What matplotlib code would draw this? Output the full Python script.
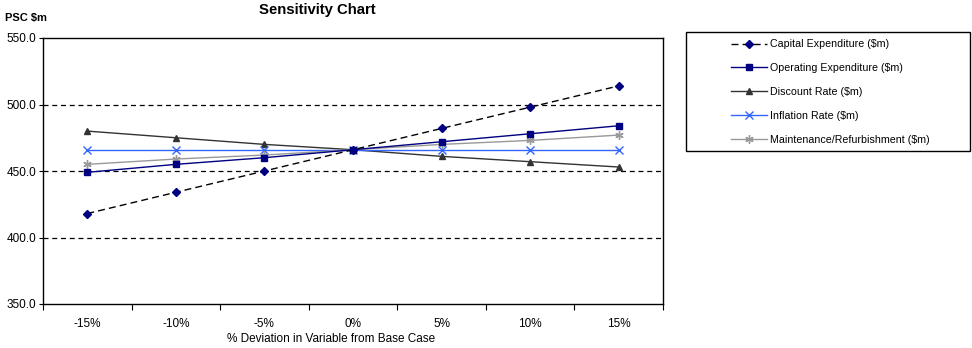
import matplotlib
matplotlib.use("Agg")
import matplotlib.pyplot as plt
from matplotlib.ticker import FixedLocator, NullFormatter
from matplotlib.patches import Rectangle

plt.rcParams['font.family'] = ['Liberation Sans', 'DejaVu Sans']

categories = ["-15%", "-10%", "-5%", "0%", "5%", "10%", "15%"]
capital = [418, 434, 450, 466, 482, 498, 514]
operating = [449, 455, 460, 466, 472, 478, 484]
discount = [480, 475, 470, 466, 461, 457, 453]
inflation = [466, 466, 466, 466, 466, 466, 466]
maintenance = [455, 459, 462, 466, 470, 473, 477]
yticks = [350, 400, 450, 500, 550]

fig = plt.figure(figsize=(9.72, 3.48), dpi=100)
ax = fig.add_axes([43/972, 1-304/348, (663-43)/972, (304-38)/348])

x = list(range(len(categories)))
l1, = ax.plot(x, capital, color='black', ls=(0, (5, 3)), lw=1.0, marker='D', ms=4,
              mfc='#000080', mec='#000080', label='Capital Expenditure ($m)', zorder=5)
l2, = ax.plot(x, operating, color='#000080', lw=1.0, marker='s', ms=5,
              mfc='#000080', mec='#000080', label='Operating Expenditure ($m)', zorder=4)
l3, = ax.plot(x, discount, color='#333333', lw=1.0, marker='^', ms=5,
              mfc='#333333', mec='#333333', label='Discount Rate ($m)', zorder=3)
l4, = ax.plot(x, inflation, color='#3366FF', lw=1.0, marker='x', ms=6, mew=1.0,
              label='Inflation Rate ($m)', zorder=3)
l5, = ax.plot(x, maintenance, color='#999999', lw=1.0, marker=(6, 2, 0), ms=6, mew=1.0,
              mec='#999999', label='Maintenance/Refurbishment ($m)', zorder=3)

ax.set_xlim(-0.5, len(categories) - 0.5)
ax.set_ylim(350, 550)
ax.set_yticks(yticks)
ax.set_yticklabels([f"{v:.1f}" for v in yticks], fontsize=8.5)
ax.set_xticks(x)
ax.set_xticklabels(categories, fontsize=8.5)
ax.tick_params(axis='x', which='major', length=0, pad=10)
ax.xaxis.set_minor_locator(FixedLocator([i - 0.5 for i in range(len(categories) + 1)]))
ax.xaxis.set_minor_formatter(NullFormatter())
ax.tick_params(axis='x', which='minor', length=4, direction='out', width=0.8)
ax.tick_params(axis='y', length=3, direction='out', width=0.8, pad=2)
for s in ax.spines.values():
    s.set_linewidth(1.0)
    s.set_color('black')
for v in [400, 450, 500]:
    ax.axhline(v, color='black', ls=(0, (4, 3)), lw=0.9, zorder=1)

ax.set_xlabel('% Deviation in Variable from Base Case', fontsize=8.5)
ax.xaxis.label.set_va('center')
ax.xaxis.set_label_coords((331-43)/620, -(339.5-304)/266)

fig.text(317/972, 1-10/348, 'Sensitivity Chart', ha='center', va='center',
         fontsize=10.7, fontweight='bold')
fig.text(5/972, 1-18/348, 'PSC $m', ha='left', va='center', fontsize=8, fontweight='bold')

# legend frame drawn separately (wide left margin in reference)
fig.patches.append(Rectangle((686/972, 1-150.5/348), (970-686)/972, (150.5-31.5)/348,
                             transform=fig.transFigure, fill=False, edgecolor='black',
                             linewidth=1.0))
leg = fig.legend(handles=[l1, l2, l3, l4, l5], loc='upper left',
                 bbox_to_anchor=(731/972, 1-39.3/348), fontsize=7.7, frameon=False,
                 handlelength=3.4, handletextpad=0.2,
                 labelspacing=1.3, borderpad=0.0, borderaxespad=0)

fig.savefig('out.png', dpi=100)
